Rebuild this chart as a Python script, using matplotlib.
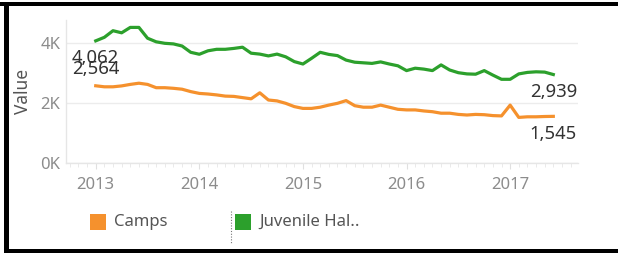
import matplotlib
matplotlib.use("Agg")
import matplotlib.pyplot as plt
import numpy as np
from matplotlib.lines import Line2D
from matplotlib.patches import Rectangle

plt.rcParams['font.family'] = ['Noto Sans', 'DejaVu Sans']

# Monthly data Jan 2013 .. Jun 2017
start_year = 2013
juvenile_hall = [4062, 4180, 4400, 4330, 4510, 4510, 4150, 4030, 3980, 3960, 3890, 3680,
                 3615, 3730, 3780, 3780, 3810, 3850, 3650, 3620, 3560, 3620, 3530, 3370,
                 3290, 3480, 3680, 3610, 3570, 3420, 3350, 3330, 3310, 3360, 3290, 3230,
                 3070, 3150, 3120, 3070, 3260, 3090, 3000, 2960, 2950, 3070, 2920, 2780,
                 2780, 2960, 3010, 3030, 3020, 2939]
camps = [2564, 2530, 2530, 2560, 2610, 2650, 2610, 2500, 2500, 2480, 2450, 2370,
         2310, 2290, 2260, 2220, 2210, 2170, 2130, 2330, 2090, 2060, 1980, 1870,
         1810, 1810, 1850, 1920, 1980, 2070, 1900, 1850, 1850, 1920, 1850, 1780,
         1760, 1760, 1725, 1700, 1650, 1650, 1610, 1590, 1610, 1600, 1570, 1560,
         1920, 1510, 1530, 1530, 1540, 1545]
series_names = ["Camps", "Juvenile Hal.."]
year_ticks = [2013, 2014, 2015, 2016, 2017]
y_ticks = [0, 2000, 4000]
y_tick_labels = ["0K", "2K", "4K"]

orange = "#f5912d"
green = "#2ca02c"

x = start_year + np.arange(len(camps)) / 12.0

fig = plt.figure(figsize=(6.18, 2.54), dpi=100)
ax = fig.add_axes([66/618, 1-163/254, (578-66)/618, (163-20)/254])

ax.plot(x, juvenile_hall, color=green, lw=2.3, solid_joinstyle='round', zorder=3)
ax.plot(x, camps, color=orange, lw=2.3, solid_joinstyle='round', zorder=3)

ax.set_xlim(2012.713, 2017.655)
ax.set_ylim(-10, 4757)

ax.set_yticks(y_ticks)
ax.set_yticklabels(y_tick_labels)
ax.set_xticks(year_ticks)
ax.set_xticklabels([str(y) for y in year_ticks])
ax.set_xticks(np.arange(2012.75, 2017.66, 1/12), minor=True)

for sp in ['top', 'right']:
    ax.spines[sp].set_visible(False)
for sp in ['left', 'bottom']:
    ax.spines[sp].set_color('#e6e6e6')
    ax.spines[sp].set_linewidth(1.0)

ax.grid(axis='y', color='#ececec', lw=1.0)
ax.set_axisbelow(True)
ax.tick_params(axis='y', length=0, labelsize=12, labelcolor='#8c8c8c', pad=4)
ax.tick_params(axis='x', which='major', length=4, color='#e0e0e0', labelsize=12,
               labelcolor='#8c8c8c', pad=6)
ax.tick_params(axis='x', which='minor', length=3, color='#e6e6e6')

ax.set_ylabel("Value", fontsize=12.5, color='#555555', labelpad=6)

lab_kw = dict(fontsize=13.3, color='#333333', ha='center', va='center',
              textcoords='offset points', zorder=4)
ax.annotate(f"{juvenile_hall[0]:,}", (x[0], juvenile_hall[0]), xytext=(0, -12), **lab_kw)
ax.annotate(f"{camps[0]:,}", (x[0], camps[0]), xytext=(0, 12), **lab_kw)
ax.annotate(f"{juvenile_hall[-1]:,}", (x[-1], juvenile_hall[-1]), xytext=(0, -12.5), **lab_kw)
ax.annotate(f"{camps[-1]:,}", (x[-1], camps[-1]), xytext=(0, -13), **lab_kw)

# Legend (Tableau-style)
def px(xp, yp):
    return xp/618, 1-yp/254
fig.patches.append(Rectangle(px(90, 230), 16/618, 16/254, transform=fig.transFigure,
                             facecolor=orange, edgecolor='none'))
fig.text(*px(114, 222), series_names[0], fontsize=12, color='#555555', va='center', ha='left')
fig.lines.append(Line2D([231/618, 231/618], [1-211/254, 1-243/254], transform=fig.transFigure,
                        color='#777777', lw=0.8, ls=(0, (1, 1.5))))
fig.patches.append(Rectangle(px(235, 230), 16/618, 16/254, transform=fig.transFigure,
                             facecolor=green, edgecolor='none'))
fig.text(*px(259, 222), series_names[1], fontsize=12, color='#555555', va='center', ha='left')

# Black frame
fig.patches.append(Rectangle((0, 1-6/254), 1, 4/254, transform=fig.transFigure,
                             facecolor='black', edgecolor='none'))
fig.patches.append(Rectangle((4/618, 1-253/254), 5/618, 251/254, transform=fig.transFigure,
                             facecolor='black', edgecolor='none'))
fig.patches.append(Rectangle((4/618, 1-253/254), 1, 4/254, transform=fig.transFigure,
                             facecolor='black', edgecolor='none'))

fig.savefig("out.png", dpi=100)
